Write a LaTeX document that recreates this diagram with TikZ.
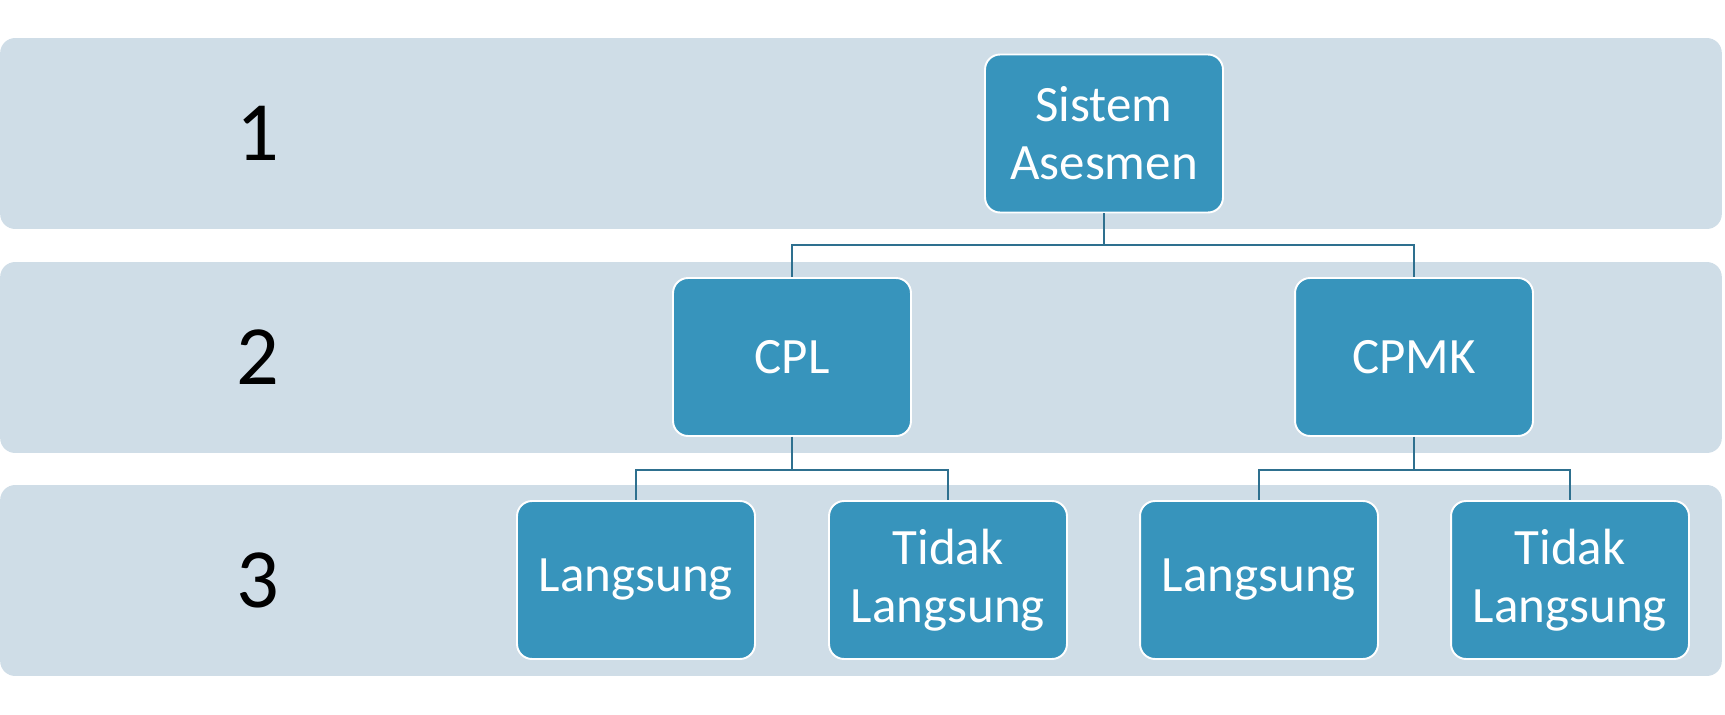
\documentclass[tikz,border=0pt]{standalone}
\usepackage{fontspec}
\setmainfont{Carlito}
\usepackage{tikz}
\definecolor{bandfill}{RGB}{207,221,231}
\definecolor{boxfill}{RGB}{55,148,188}
\definecolor{linkcol}{RGB}{46,112,143}
\begin{document}
\begin{tikzpicture}[%
  x=0.02cm, y=-0.02cm,
  band/.style={rectangle, rounded corners=0.3cm, fill=bandfill, minimum width=34.44cm, minimum height=3.82cm, inner sep=0pt},
  level/.style={text=black, font=\fontsize{48}{50}\selectfont},
  block/.style={rectangle, rounded corners=0.3cm, draw=white, line width=1.1pt, fill=boxfill, text=white, align=center, minimum width=4.76cm, minimum height=3.16cm, inner sep=2pt, font=\fontsize{29}{33}\selectfont},
  link/.style={draw=linkcol, line width=1.1pt},
  ]
  \useasboundingbox (0,0) rectangle (1725,714);
  \node[band] (row1) at (861,133.5) {};
  \node[band] (row2) at (861,357.5) {};
  \node[band] (row3) at (861,580.5) {};
  \node[level] (num1) at (258,133.5) {1};
  \node[level] (num2) at (258,357.5) {2};
  \node[level] (num3) at (258,580.5) {3};
  \node[block] (sa) at (1104,133.5) {Sistem\\Asesmen};
  \node[block] (cpl) at (792,357) {CPL};
  \node[block] (cpmk) at (1414,357) {CPMK};
  \node[block] (cpl1) at (636,580) {Langsung};
  \node[block] (cpl2) at (948,580) {Tidak\\Langsung};
  \node[block] (cpmk1) at (1259,580) {Langsung};
  \node[block] (cpmk2) at (1570,580) {Tidak\\Langsung};
  \draw[link] (sa.south) -- ++(0,32) -| (cpl.north);
  \draw[link] (sa.south) -- ++(0,32) -| (cpmk.north);
  \draw[link] (cpl.south) -- ++(0,33) -| (cpl1.north);
  \draw[link] (cpl.south) -- ++(0,33) -| (cpl2.north);
  \draw[link] (cpmk.south) -- ++(0,33) -| (cpmk1.north);
  \draw[link] (cpmk.south) -- ++(0,33) -| (cpmk2.north);
\end{tikzpicture}
\end{document}
